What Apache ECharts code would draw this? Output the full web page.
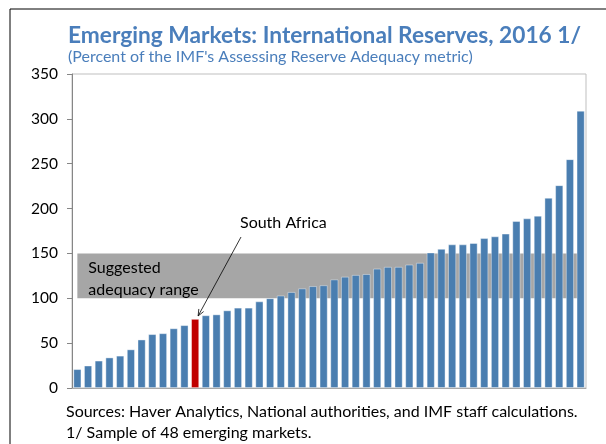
<!DOCTYPE html>
<html>
<head>
<meta charset="utf-8">
<script src="https://cdn.jsdelivr.net/npm/echarts@6/dist/echarts.min.js"></script>
<style>
  html, body { margin: 0; padding: 0; background: #fff; }
  #chart { width: 606px; height: 444px; }
</style>
</head>
<body>
<div id="chart"></div>
<script>
// 48 emerging markets, sorted ascending
const markets = Array.from({ length: 48 }, (_, i) => "EM" + (i + 1));
const reserves = [
  21, 25, 30.5, 34, 36, 43, 54, 60, 61, 66.5, 70, 77,
  81, 82, 86.5, 89.5, 89.5, 96.5, 100, 103, 107, 111, 113.5, 114.5,
  121, 124, 126, 127, 133, 135, 135, 137.5, 139.5, 151, 155, 160,
  160, 161.5, 167, 169, 172, 186, 189, 192, 212, 226, 255, 309
];
const southAfricaIndex = 11;
const bandLow = 100;
const bandHigh = 150;
const yTicks = [0, 50, 100, 150, 200, 250, 300, 350];

const FONT = "Lato";
const BLUE = "#4A7EB0";

const chart = echarts.init(document.getElementById("chart"));

const option = {
  animation: false,
  textStyle: { fontFamily: FONT },
  title: [
    {
      text: "Emerging Markets: International Reserves, 2016 1/",
      left: 68,
      top: 24,
      padding: 0,
      textStyle: { fontFamily: FONT, fontSize: 22.7, fontWeight: "bold", color: "#4A7EBB" }
    },
    {
      text: "(Percent of the IMF's Assessing Reserve Adequacy metric)",
      left: 68,
      top: 49,
      padding: 0,
      textStyle: { fontFamily: FONT, fontSize: 16, fontWeight: "normal", color: "#4A7EBB" }
    },
    {
      text: "Sources: Haver Analytics, National authorities, and IMF staff calculations.\n1/ Sample of 48 emerging markets.",
      left: 66,
      top: 401,
      padding: 0,
      textStyle: { fontFamily: FONT, fontSize: 16, fontWeight: "normal", color: "#000", lineHeight: 21 }
    }
  ],
  grid: { left: 72, right: 20, top: 74, bottom: 56, show: true, borderColor: "#BFBFBF", borderWidth: 1 },
  xAxis: {
    type: "category",
    data: markets,
    axisLine: { lineStyle: { color: "#A6A6A6" } },
    axisTick: { show: false },
    axisLabel: { show: false }
  },
  yAxis: {
    type: "value",
    min: yTicks[0],
    max: yTicks[yTicks.length - 1],
    interval: 50,
    axisLine: { show: true, lineStyle: { color: "#868686" } },
    axisTick: { show: true, inside: false, length: 5, lineStyle: { color: "#868686" } },
    axisLabel: { fontFamily: FONT, fontSize: 15.5, color: "#000", margin: 14 },
    splitLine: { show: false }
  },
  series: [
    {
      name: "band",
      type: "line",
      data: [],
      z: 1,
      silent: true,
      markArea: {
        silent: true,
        itemStyle: { color: "#A6A6A6" },
        label: {
          show: true,
          position: [11, 3],
          formatter: "Suggested\nadequacy range",
          fontFamily: FONT,
          fontSize: 16,
          color: "#000",
          lineHeight: 22
        },
        data: [[{ xAxis: 0, yAxis: bandLow }, { xAxis: markets.length - 1, yAxis: bandHigh }]]
      }
    },
    {
      name: "Reserves",
      type: "bar",
      z: 2,
      barCategoryGap: "25%",
      data: reserves.map((v, i) => ({
        value: v,
        itemStyle: { color: i === southAfricaIndex ? "#C00000" : BLUE }
      })),
      itemStyle: { borderColor: "rgba(255,255,255,0.5)", borderWidth: 0.8 }
    }
  ]
};

chart.setOption(option);

// South Africa annotation with arrow pointing at its bar
const tip = chart.convertToPixel({ gridIndex: 0 }, [southAfricaIndex, reserves[southAfricaIndex]]);
const tipX = tip[0] + 3;
const tipY = tip[1] - 3;
const startX = 241;
const startY = 237;
const ang = Math.atan2(tipY - startY, tipX - startX);
const ah = 7;
chart.setOption({
  graphic: [
    { type: "line", z: 100, shape: { x1: 10, y1: 9, x2: 606, y2: 9 }, style: { stroke: "#000", lineWidth: 1 } },
    { type: "line", z: 100, shape: { x1: 10, y1: 9, x2: 10, y2: 444 }, style: { stroke: "#000", lineWidth: 1 } },
    {
      type: "text",
      z: 100,
      left: 240,
      top: 215,
      style: { text: "South Africa", font: "16px " + FONT, fill: "#000" }
    },
    { type: "line", z: 100, shape: { x1: startX, y1: startY, x2: tipX, y2: tipY }, style: { stroke: "#000", lineWidth: 0.8 } },
    {
      type: "polyline",
      z: 100,
      shape: {
        points: [
          [tipX - ah * Math.cos(ang - 0.4), tipY - ah * Math.sin(ang - 0.4)],
          [tipX, tipY],
          [tipX - ah * Math.cos(ang + 0.4), tipY - ah * Math.sin(ang + 0.4)]
        ]
      },
      style: { stroke: "#000", fill: null, lineWidth: 0.8 }
    }
  ]
});
</script>
</body>
</html>
